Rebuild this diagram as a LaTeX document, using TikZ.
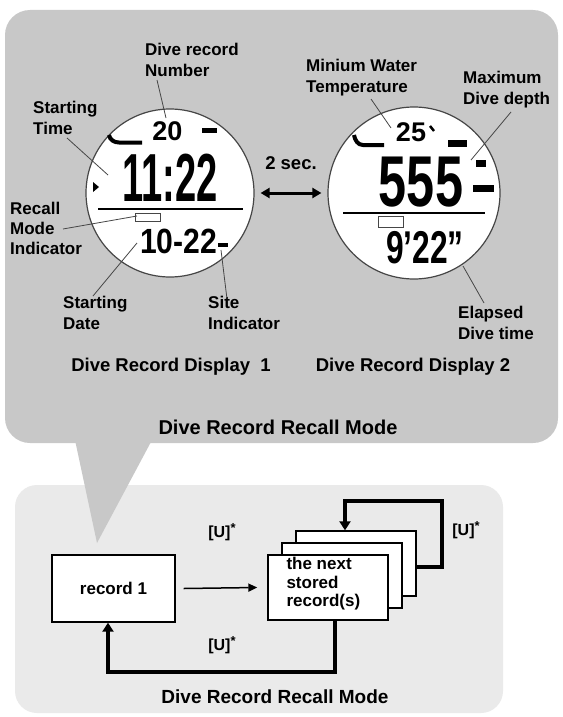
\documentclass[tikz,border=0pt]{standalone}
\usepackage{fontspec}
\setmainfont{Liberation Sans}
\usetikzlibrary{arrows.meta,calc}
\definecolor{panelA}{RGB}{200,200,200}
\definecolor{panelB}{RGB}{234,234,234}
\definecolor{leadc}{RGB}{70,70,70}
\begin{document}
\begin{tikzpicture}[x=1pt,y=-1pt,
  lbl/.style={font=\fontsize{17}{21}\selectfont\bfseries, align=left, inner sep=0pt, anchor=west},
  ttl/.style={font=\fontsize{18.5}{21}\selectfont\bfseries, inner sep=0pt},
  lead/.style={draw=leadc, line width=0.8pt},
  dial/.style={circle, draw=leadc, line width=1.2pt, fill=white, inner sep=0pt},
  seg/.style={fill=black, draw=none},
  lcd/.style={inner sep=0pt, font=\bfseries},
  recbox/.style={draw=black, line width=1.4pt, fill=white, inner sep=0pt},
  flow/.style={draw=black, line width=4pt},
  ulbl/.style={font=\fontsize{16}{18}\selectfont\bfseries, inner sep=0pt}]
\useasboundingbox[fill=white] (0,0) rectangle (562,717);
% panels
\fill[panelB, rounded corners=22pt] (15,485) rectangle (503,713);
\fill[panelA, rounded corners=25pt] (5,10) rectangle (558,443);
\fill[panelA] (75,440) -- (152,440) -- (97,543) -- cycle;

% dials
\node[dial, minimum size=168pt] (c1) at (170,193) {};
\node[dial, minimum size=172pt] (c2) at (414,193) {};

% --- display 1 contents
\node[lcd, font=\fontsize{27}{27}\selectfont\bfseries] (d20) at (167.5,131.5) {20};
\fill[seg] (202,128) rectangle (217,133);
\draw[line width=4pt] (109,135) to[out=-80,in=180] (119,142.5) -- (142,142.5);
\node[lcd] (d1122) at (170,178) {\scalebox{0.56}[1]{\fontsize{68}{68}\selectfont\bfseries 11:22}};
\fill[seg] (93,182) -- (99,187) -- (93,192) -- cycle;
\draw[line width=1.2pt] (98,209) -- (243,209);
\draw[leadc, line width=1pt, fill=white] (135,213) rectangle (160,221);
\node[lcd] (d1022) at (178.5,241.5) {\scalebox{0.86}[1]{\fontsize{35}{35}\selectfont\bfseries 10-22}};
\fill[seg] (218,243) rectangle (228,247);

% --- display 2 contents
\node[lcd, font=\fontsize{27}{27}\selectfont\bfseries] (d25) at (411,132) {25};
\draw[line width=2.5pt] (430,126) -- (434,131);
\draw[line width=4pt] (354,135) to[out=-80,in=180] (363,145) -- (384,145);
\fill[seg] (448,140) rectangle (467,147);
\node[lcd] (d555) at (421,182) {\scalebox{0.7}[1]{\fontsize{72}{72}\selectfont\bfseries 555}};
\fill[seg] (476,160) rectangle (486,167);
\fill[seg] (473,185) rectangle (494,192);
\draw[line width=1.2pt] (343,213) -- (485,213);
\draw[leadc, line width=1pt, fill=white] (378,216) rectangle (403,227);
\node[lcd] (d922) at (425,248) {\scalebox{0.69}[1]{\fontsize{46}{46}\selectfont\bfseries 9'22''}};

% 2 sec arrow
\node[ttl] (two) at (291,163) {2 sec.};
\draw[line width=3pt, {Triangle[length=9pt,width=10pt]}-{Triangle[length=9pt,width=10pt]}]
  ([xshift=6pt]c1.east) -- ([xshift=-6pt]c2.west);

% labels
\node[lbl] (numlbl) at (145,60) {Dive record\\Number};
\node[lbl] (stlbl) at (33,118) {Starting\\Time};
\node[lbl, font=\fontsize{17}{20}\selectfont\bfseries] (rmlbl) at (10,228) {Recall\\Mode\\Indicator};
\node[lbl] (sdlbl) at (63,313) {Starting\\Date};
\node[lbl] (silbl) at (208,313) {Site\\Indicator};
\node[lbl] (mwlbl) at (306,78) {Minium Water\\Temperature};
\node[lbl] (mxlbl) at (463,90) {Maximum\\Dive depth};
\node[lbl] (edlbl) at (458,323) {Elapsed\\Dive time};

% leader lines
\coordinate (n1) at (157,80);   \coordinate (n2) at (166,118);
\coordinate (t1) at (67,138);   \coordinate (t2) at (108,175);
\coordinate (r1) at (63,229);   \coordinate (r2) at (137,216);
\coordinate (s1) at (93,296);   \coordinate (s2) at (137,243);
\coordinate (i1) at (227,299);  \coordinate (i2) at (221,250);
\coordinate (w1) at (371,99);   \coordinate (w2) at (391,128);
\coordinate (x1) at (511,112);  \coordinate (x2) at (471,160);
\coordinate (e1) at (484,303);  \coordinate (e2) at (463,266);
\draw[lead] (n1) -- (n2);
\draw[lead] (t1) -- (t2);
\draw[lead] (r1) -- (r2);
\draw[lead] (s1) -- (s2);
\draw[lead] (i1) -- (i2);
\draw[lead] (w1) -- (w2);
\draw[lead] (x1) -- (x2);
\draw[lead] (e1) -- (e2);

\node[ttl] (disp1) at (171,367) {Dive Record Display\ \ 1};
\node[ttl] (disp2) at (413,367) {Dive Record Display 2};
\node[ttl, font=\fontsize{20}{22}\selectfont\bfseries] (recall1) at (278,427) {Dive Record Recall Mode};

% --- bottom flow
\node[recbox, minimum width=123pt, minimum height=67pt, font=\fontsize{17}{20}\selectfont\bfseries] (rec1) at (113.5,588.5) {record 1};
\node[recbox, minimum width=120pt, minimum height=65pt] (third) at (356,563.5) {};
\node[recbox, minimum width=120pt, minimum height=65pt] (second) at (342,575.5) {};
\node[recbox, minimum width=120pt, minimum height=65pt] (front) at (328,587.5) {};
\node[inner sep=0pt, anchor=north west, align=left, font=\fontsize{17}{18.5}\selectfont\bfseries] (fronttxt) at ([xshift=19pt,yshift=-3pt]front.north west) {the next\\stored\\record(s)};

\draw[line width=1.5pt, -{Triangle[length=9pt,width=8pt]}] ([xshift=8pt]rec1.east) -- ([xshift=-10pt]front.west);
\coordinate (lpA) at (442,567);
\coordinate (lpB) at (442,501);
\coordinate (lpC) at (345,501);
\draw[flow, -{Triangle[length=9pt,width=11pt]}] (lpA -| third.east) -- (lpA) -- (lpB) -- (lpC) -- (lpC |- third.north);
\coordinate (bl) at ($(front.south west)!0.56!(front.south east)$);
\coordinate (blB) at (108,672);
\draw[flow, -{Triangle[length=9pt,width=11pt]}] (bl) -- (bl |- blB) -- (blB) -- (blB |- rec1.south);

\node[ulbl] (u1) at (222,532) {[U]\raisebox{5pt}{\fontsize{13}{13}\selectfont *}};
\node[ulbl] (u2) at (222,645) {[U]\raisebox{5pt}{\fontsize{13}{13}\selectfont *}};
\node[ulbl] (u3) at (466,530) {[U]\raisebox{5pt}{\fontsize{13}{13}\selectfont *}};
\node[ttl, font=\fontsize{19}{21}\selectfont\bfseries] (recall2) at (275,697) {Dive Record Recall Mode};
\end{tikzpicture}
\end{document}
